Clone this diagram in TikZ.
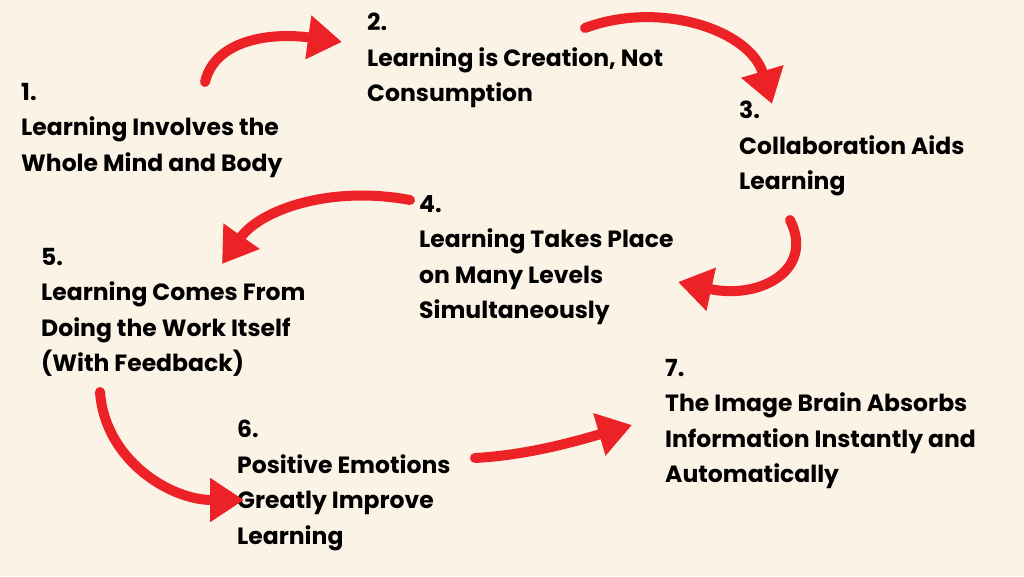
\documentclass[tikz,border=0pt]{standalone}
\usepackage{fontspec}
\setmainfont{Poppins}
\usetikzlibrary{arrows.meta}
\definecolor{bg}{HTML}{FAF3E6}
\definecolor{arr}{HTML}{EC2227}
\begin{document}
\begin{tikzpicture}[x=1pt,y=-1pt,
  txt/.style={anchor=north west,inner sep=0pt,align=left,font=\fontsize{23.5}{35.5}\selectfont\bfseries,text=black},
  bigarrow/.style={draw=arr,line width=10pt,line cap=round,-{Triangle[length=34pt,width=42pt]}}]
\useasboundingbox[fill=bg] (0,0) rectangle (1024,576);
\node[txt] (t1) at (21,83) {1.\\Learning Involves the\\Whole Mind and Body};
\node[txt] (t2) at (367,13) {2.\\Learning is Creation, Not\\Consumption};
\node[txt] (t3) at (739,101) {3.\\Collaboration Aids\\Learning};
\node[txt] (t4) at (419,195) {4.\\Learning Takes Place\\on Many Levels\\Simultaneously};
\node[txt] (t5) at (41,248) {5.\\Learning Comes From\\Doing the Work Itself\\(With Feedback)};
\node[txt] (t6) at (237,420) {6.\\Positive Emotions\\Greatly Improve\\Learning};
\node[txt] (t7) at (665,359) {7.\\The Image Brain Absorbs\\Information Instantly and\\Automatically};
\coordinate (a1s) at (205,82); \coordinate (a1e) at (342,42);
\coordinate (a2s) at (585,28); \coordinate (a2e) at (772,104);
\coordinate (a3s) at (790,220); \coordinate (a3e) at (678,282);
\coordinate (a4s) at (410,200); \coordinate (a4e) at (222,264);
\coordinate (a5s) at (100,392); \coordinate (a5e) at (244,500);
\coordinate (a6s) at (475,458); \coordinate (a6e) at (632,425);
\draw[bigarrow] (a1s) .. controls (215,40) and (270,32) .. (a1e);
\draw[bigarrow] (a2s) .. controls (660,0) and (750,30) .. (a2e);
\draw[bigarrow] (a3s) .. controls (815,270) and (760,300) .. (a3e);
\draw[bigarrow] (a4s) .. controls (330,185) and (260,210) .. (a4e);
\draw[bigarrow] (a5s) .. controls (105,460) and (170,500) .. (a5e);
\draw[bigarrow] (a6s) .. controls (530,455) and (580,440) .. (a6e);
\end{tikzpicture}
\end{document}
